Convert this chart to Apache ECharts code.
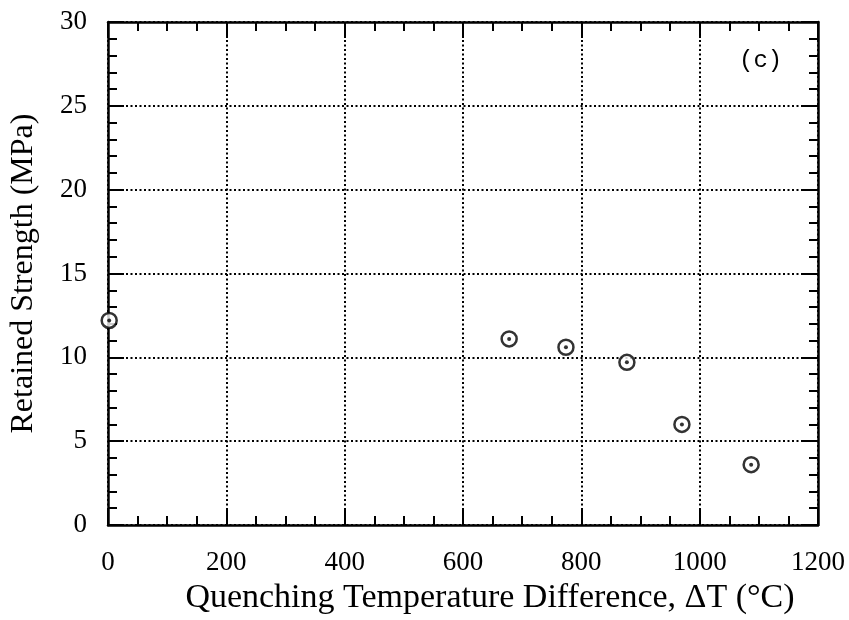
<!DOCTYPE html>
<html>
<head>
<meta charset="utf-8">
<script src="https://cdn.jsdelivr.net/npm/echarts@6/dist/echarts.min.js"></script>
<style>
  html, body { margin: 0; padding: 0; background: #fff; }
  #main { width: 849px; height: 620px; }
</style>
</head>
<body>
<div id="main"></div>
<script>
// data
var deltaT = [2, 678, 774, 877, 970, 1087];
var strength = [12.2, 11.1, 10.6, 9.7, 6.0, 3.6];
var xTicks = [0, 200, 400, 600, 800, 1000, 1200];
var yTicks = [0, 5, 10, 15, 20, 25, 30];

var points = deltaT.map(function (t, i) { return [t, strength[i]]; });

var serif = 'Liberation Serif';
var black = '#000';

function frameAxis(extra, split) {
  var base = {
    axisLine: { show: true, onZero: false, lineStyle: { color: black, width: 2.5 } },
    axisTick: { show: true, inside: true, length: 16, lineStyle: { color: black, width: 2 } },
    minorTick: { show: true, splitNumber: split, length: 9, lineStyle: { color: black, width: 2 } },
    splitLine: { show: false },
    axisLabel: { show: false }
  };
  return Object.assign(base, extra);
}

var myChart = echarts.init(document.getElementById('main'));

var option = {
  backgroundColor: '#fff',
  animation: false,
  grid: { left: 108, right: 31, top: 22, bottom: 95 },
  xAxis: [
    frameAxis({
      type: 'value', position: 'bottom',
      min: xTicks[0], max: xTicks[xTicks.length - 1], interval: 200,
      splitLine: { show: true, lineStyle: { color: black, width: 2, type: [2, 2.5] } },
      axisLabel: {
        show: true, margin: 24, color: black, fontFamily: serif, fontSize: 27,
        formatter: function (v) { return String(v); }
      },
      name: 'Quenching Temperature Difference, \u0394T (\u00B0C)',
      nameLocation: 'middle', nameGap: 50,
      nameTextStyle: { color: black, fontFamily: serif, fontSize: 34, padding: [0, 0, 0, 54] }
    }, 4),
    frameAxis({
      type: 'value', position: 'top',
      min: xTicks[0], max: xTicks[xTicks.length - 1], interval: 200
    }, 4)
  ],
  yAxis: [
    frameAxis({
      type: 'value', position: 'left',
      min: yTicks[0], max: yTicks[yTicks.length - 1], interval: 5,
      splitLine: { show: true, lineStyle: { color: black, width: 2, type: [2, 2.5] } },
      axisLabel: {
        show: true, margin: 21, color: black, fontFamily: serif, fontSize: 27,
        formatter: function (v) { return String(v); }
      },
      name: 'Retained Strength (MPa)',
      nameLocation: 'middle', nameGap: 68,
      nameTextStyle: { color: black, fontFamily: serif, fontSize: 32 }
    }, 5),
    frameAxis({
      type: 'value', position: 'right',
      min: yTicks[0], max: yTicks[yTicks.length - 1], interval: 5
    }, 5)
  ],
  graphic: [
    {
      type: 'text', left: 739, top: 49,
      style: { text: '(c)', fill: black, font: '24px "Liberation Mono"' }
    }
  ],
  series: [
    {
      type: 'scatter', xAxisIndex: 0, yAxisIndex: 0,
      data: points, symbol: 'circle', symbolSize: 15,
      itemStyle: { color: '#fff', borderColor: black, borderWidth: 2.5 },
      z: 3
    },
    {
      type: 'scatter', xAxisIndex: 0, yAxisIndex: 0,
      data: points, symbol: 'circle', symbolSize: 4,
      itemStyle: { color: black },
      z: 4
    }
  ]
};

myChart.setOption(option);
</script>
</body>
</html>
